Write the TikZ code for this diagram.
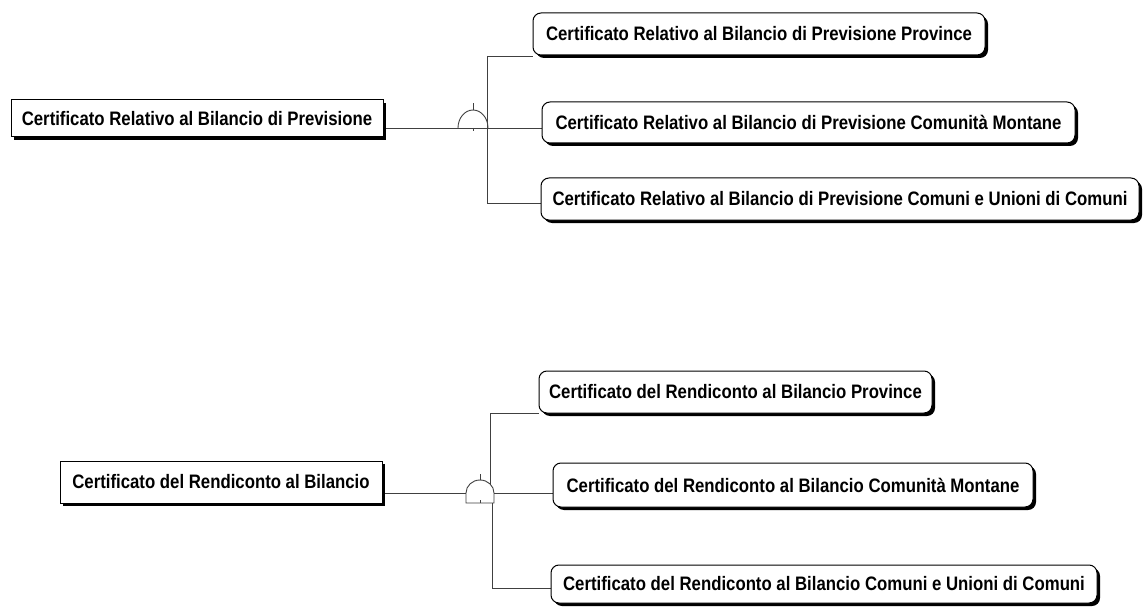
\documentclass[tikz,border=0pt]{standalone}
\usepackage{fontspec}
\setmainfont{Liberation Sans}
\usetikzlibrary{shadows}
\pgfdeclarelayer{bglayer}
\pgfdeclarelayer{linelayer}
\pgfsetlayers{bglayer,linelayer,main}
\newcommand{\lbl}[1]{\scalebox{0.86}[1]{#1}}
\begin{document}
\begin{tikzpicture}[x=1pt,y=-1pt,
  basebox/.style={draw=black, line width=1pt, fill=white, inner sep=0pt,
    font=\fontsize{19.5}{21}\selectfont\bfseries,
    drop shadow={shadow xshift=3pt, shadow yshift=-3pt, fill=black, opacity=1}},
  parentbox/.style={basebox, rectangle},
  childbox/.style={basebox, rectangle, rounded corners=8pt},
  conn/.style={draw=black!75, line width=0.9pt},
  gate/.style={draw=black!75, line width=0.9pt}]
\useasboundingbox (0,0) rectangle (1144,607);
\begin{pgfonlayer}{bglayer}
  \fill[white] (0,0) rectangle (1144,607);
\end{pgfonlayer}

% top group
\node[parentbox, minimum width=372pt, minimum height=37pt] (P1) at (197,118.5) {\lbl{Certificato Relativo al Bilancio di Previsione}};
\node[childbox, minimum width=452pt, minimum height=42pt] (A1) at (759,34) {\lbl{Certificato Relativo al Bilancio di Previsione Province}};
\node[childbox, minimum width=533pt, minimum height=41pt] (A2) at (808.5,122.5) {\lbl{Certificato Relativo al Bilancio di Previsione Comunità Montane}};
\node[childbox, minimum width=598pt, minimum height=42pt] (A3) at (840,199) {\lbl{Certificato Relativo al Bilancio di Previsione Comuni e Unioni di Comuni}};

% bottom group
\node[parentbox, minimum width=322pt, minimum height=42pt] (P2) at (221,482) {\lbl{Certificato del Rendiconto al Bilancio}};
\node[childbox, minimum width=393pt, minimum height=42pt] (B1) at (735.5,392) {\lbl{Certificato del Rendiconto al Bilancio Province}};
\node[childbox, minimum width=480pt, minimum height=44pt] (B2) at (793,485) {\lbl{Certificato del Rendiconto al Bilancio Comunità Montane}};
\node[childbox, minimum width=546pt, minimum height=38pt] (B3) at (824,584) {\lbl{Certificato del Rendiconto al Bilancio Comuni e Unioni di Comuni}};

\coordinate (g1l) at (458,128);
\coordinate (v1t) at (487,56);
\coordinate (v1b) at (487,203);
\coordinate (g2l) at (466,493);
\coordinate (g2r) at (494,493);
\coordinate (v2t) at (490,413);
\coordinate (v2m) at (490,484);
\coordinate (v3t) at (492,503);
\coordinate (v3b) at (492,588);

\begin{pgfonlayer}{linelayer}
  % top connectors
  \draw[conn] (P1.east |- g1l) -- (A2.west |- g1l);
  \draw[conn] (v1t) -- (v1b);
  \draw[conn] (v1t) -- (A1.west |- v1t);
  \draw[conn] (v1b) -- (A3.west |- v1b);
  \draw[gate] (g1l) arc[start angle=180, end angle=0, x radius=15pt, y radius=18pt];
  \draw[gate] (473,110) -- (473,103);
  \draw[gate] (473,128) -- (473,131);
  % bottom connectors
  \draw[conn] (P2.east |- g2l) -- (g2l);
  \draw[conn] (g2r) -- (B2.west |- g2r);
  \draw[gate] (g2l) arc[start angle=180, end angle=0, x radius=14pt, y radius=13pt] -- (494,503) -- (466,503) -- cycle;
  \draw[gate] (480,480) -- (480,474);
  \draw[gate] (480,503) -- (480,500);
  \draw[conn] (v2t) -- (v2m);
  \draw[conn] (v2t) -- (B1.west |- v2t);
  \draw[conn] (v3t) -- (v3b) -- (B3.west |- v3b);
\end{pgfonlayer}
\end{tikzpicture}
\end{document}
